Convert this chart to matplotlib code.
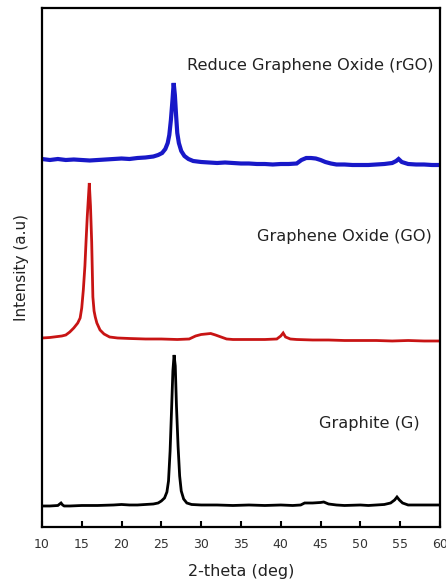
import matplotlib
matplotlib.use("Agg")
import matplotlib.pyplot as plt

# ---- data (intensities in arbitrary units) ----
g_theta = [10, 11, 12, 12.4, 12.6, 12.8, 13.5, 15, 17, 19, 20, 21, 22, 23, 24, 24.6,
           25.0, 25.4, 25.7, 25.9, 26.1, 26.3, 26.45, 26.6, 26.75, 26.9, 27.1, 27.3,
           27.5, 27.8, 28.2, 28.8, 30, 32, 34, 36, 38, 40, 41.5, 42.5, 43.0, 44.0,
           45.0, 45.4, 46.0, 47, 48, 50, 51, 52, 53, 53.8, 54.3, 54.6, 54.9, 55.3,
           56, 57, 58, 59, 60]
g_int = [0, 0, 0.5, 3, 1, 0, 0, 0.5, 0.5, 1, 1.5, 1, 1, 1.5, 2, 3,
         5, 8, 14, 25, 55, 100, 135, 151, 140, 100, 60, 30,
         15, 7, 3, 1.5, 1, 1, 0.5, 1, 0.5, 1, 0.5, 1, 3, 3,
         3.5, 4, 2, 1, 0.5, 1, 0.5, 1, 1.5, 3, 6, 9, 6, 3,
         1, 1, 1, 1, 1]

go_theta = [10, 11, 12, 12.5, 13, 13.5, 14, 14.5, 14.8, 15.0, 15.2, 15.4, 15.55, 15.7,
            15.85, 15.95, 16.1, 16.25, 16.4, 16.55, 16.7, 16.9, 17.3, 17.8, 18.5,
            19.5, 21, 23, 25, 27, 28.5, 29.3, 30, 30.6, 31.2, 31.8, 32.5, 33.2, 34,
            36, 38, 39.5, 40.0, 40.3, 40.6, 41.2, 42, 44, 46, 48, 50, 52, 54, 56, 58, 60]
go_int = [3, 3.5, 4.5, 5, 6, 9, 13, 18, 23, 33, 51, 75, 101, 125,
          145, 158, 135, 99, 44, 30, 24, 18, 11, 7, 4,
          3, 2.5, 2, 2, 1.5, 2, 5, 6.5, 7, 7.5, 6, 4, 2, 1.5,
          1.5, 1.5, 2, 5, 8, 4, 2, 1.5, 1, 1, 0.5, 0.5, 0.5, 0, 0.5, 0, 0]

rgo_theta = [10, 11, 12, 13, 14, 15, 16, 17, 18, 19, 20, 21, 22, 23, 24, 24.6, 25.1,
             25.5, 25.8, 26.0, 26.2, 26.4, 26.55, 26.7, 26.85, 27.0, 27.2, 27.5, 27.9,
             28.4, 29, 30, 31, 32, 33, 34, 35, 36, 37, 38, 39, 40, 41, 42, 42.6, 43.2,
             43.8, 44.4, 45.0, 45.6, 46.3, 47, 48, 49, 50, 51, 52, 53, 54, 54.5, 54.8,
             55.2, 56, 57, 58, 59, 60]
rgo_int = [6, 5, 6, 5, 5.5, 5, 4.5, 5, 5.5, 6, 6.5, 6, 7, 7.5, 8.5, 10, 12,
           16, 22, 30, 45, 65, 82, 70, 50, 32, 22, 14, 9,
           6, 4, 3, 2.5, 2, 2.5, 2, 1.5, 1.5, 1, 1, 0.5, 1, 1, 1.5, 5, 7,
           7, 6.5, 5, 3, 1.5, 0.5, 0.5, 0, 0, 0, 0.5, 1, 2, 4, 6,
           3, 1, 0.5, 0.5, 0, 0]

labels = ["Graphite (G)", "Graphene Oxide (GO)", "Reduce Graphene Oxide (rGO)"]
x_ticks = [10, 15, 20, 25, 30, 35, 40, 45, 50, 55, 60]

# ---- styling / layout ----
offsets = [21, 186, 362]
colors = ["#000000", "#c81414", "#1818c8"]
widths = [2.0, 2.0, 3.0]
label_pos = [(0.696, 0.200), (0.540, 0.559), (0.364, 0.890)]

fig = plt.figure(figsize=(4.46, 5.80), dpi=100)
ax = fig.add_axes([0.094, 0.0914, 0.8925, 0.8948])

series = [(g_theta, g_int), (go_theta, go_int), (rgo_theta, rgo_int)]
for (xs, ys), off, c, lw in zip(series, offsets, colors, widths):
    ax.plot(xs, [v + off for v in ys], color=c, lw=lw, solid_joinstyle="miter")

for lab, (px, py) in zip(labels, label_pos):
    ax.text(px, py, lab, transform=ax.transAxes, fontsize=11.6, color="#222222",
            ha="left", va="center")

ax.set_xlim(10, 60)
ax.set_ylim(0, 519)
ax.set_xticks(x_ticks)
ax.set_xticklabels([str(t) for t in x_ticks], fontsize=9, color="#333333")
ax.tick_params(axis="x", direction="in", length=4, width=1.5, pad=8)
ax.set_yticks([])
for s in ax.spines.values():
    s.set_linewidth(1.6)
ax.set_xlabel("2-theta (deg)", fontsize=11.5, color="#222222", labelpad=9)
ax.set_ylabel("Intensity (a.u)", fontsize=11, color="#222222", labelpad=9)

fig.savefig("out.png", dpi=100)
